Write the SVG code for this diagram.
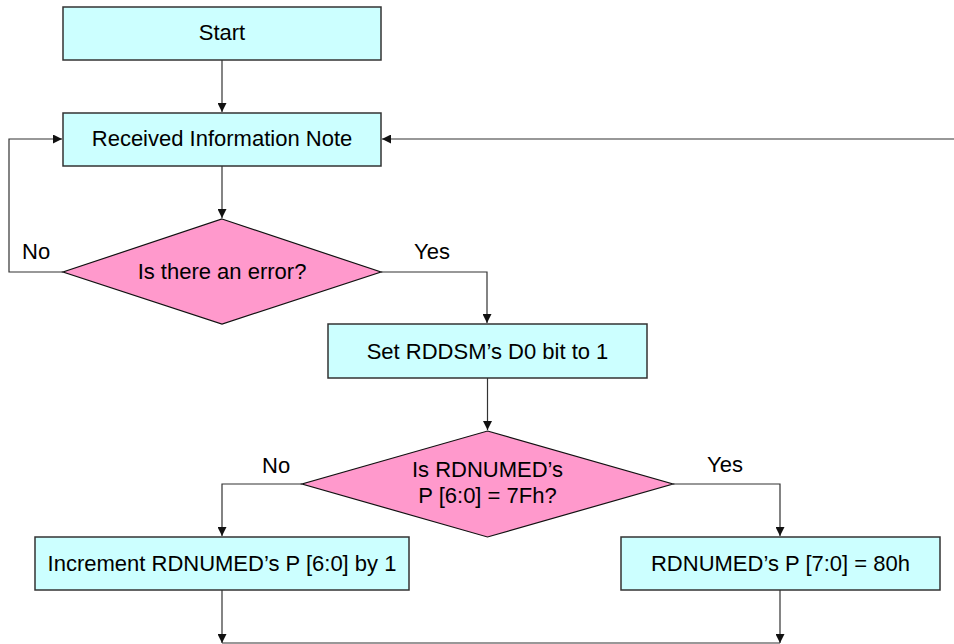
<svg xmlns="http://www.w3.org/2000/svg" width="954" height="644" viewBox="0 0 954 644">
<defs>
<marker id="arr" viewBox="0 0 10 10" refX="10" refY="5" markerWidth="9" markerHeight="9" markerUnits="userSpaceOnUse" orient="auto">
<path d="M0,0 L10,5 L0,10 z" fill="#111"/>
</marker>
<style>
.box{fill:#CCFFFF;stroke:#333;stroke-width:1.5}
.dia{fill:#FF99CC;stroke:#111;stroke-width:1.2}
.t{font-family:"Liberation Sans",Arial,sans-serif;font-size:22px;fill:#000;text-anchor:middle}
.lbl{font-family:"Liberation Sans",Arial,sans-serif;font-size:22px;fill:#000}
.c{fill:none;stroke:#333;stroke-width:1.2}
</style>
</defs>
<rect width="954" height="644" fill="#fff"/>
<g id="connectors">
<path class="c" d="M222,60 V112" marker-end="url(#arr)"/>
<path class="c" d="M222,166 V218" marker-end="url(#arr)"/>
<path class="c" d="M63,272 H9 V139 H62" marker-end="url(#arr)"/>
<path class="c" d="M954,139 H382" marker-end="url(#arr)"/>
<path class="c" d="M381,272 H487 V323" marker-end="url(#arr)"/>
<path class="c" d="M487.5,378 V430" marker-end="url(#arr)"/>
<path class="c" d="M302,484 H222 V536" marker-end="url(#arr)"/>
<path class="c" d="M673,484 H780 V536" marker-end="url(#arr)"/>
<path class="c" d="M222,590 V643" marker-end="url(#arr)"/>
<path class="c" d="M780,590 V643" marker-end="url(#arr)"/>
<path class="c" d="M222,643 H780"/>
<text class="lbl" x="22" y="259">No</text>
<text class="lbl" x="414" y="259">Yes</text>
<text class="lbl" x="262" y="473">No</text>
<text class="lbl" x="707" y="472">Yes</text>
</g>
<g id="start">
<rect class="box" x="63" y="7" width="318" height="53"/>
<text class="t" x="222" y="40">Start</text>
</g>
<g id="received">
<rect class="box" x="63" y="113" width="318" height="53"/>
<text class="t" x="222" y="146">Received Information Note</text>
</g>
<g id="error">
<polygon class="dia" points="222,219 381,272 222,324 63,272"/>
<text class="t" x="222" y="279">Is there an error?</text>
</g>
<g id="set">
<rect class="box" x="328" y="324" width="319" height="54"/>
<text class="t" x="487.5" y="359">Set RDDSM’s D0 bit to 1</text>
</g>
<g id="check">
<polygon class="dia" points="487.5,431 673,484 487.5,537 302,484"/>
<text class="t" x="487.5" y="477">Is RDNUMED’s</text>
<text class="t" x="487.5" y="503">P [6:0] = 7Fh?</text>
</g>
<g id="increment">
<rect class="box" x="35" y="537" width="374" height="53"/>
<text class="t" x="222" y="571">Increment RDNUMED’s P [6:0] by 1</text>
</g>
<g id="reset">
<rect class="box" x="621" y="537" width="319" height="53"/>
<text class="t" x="780.5" y="571">RDNUMED’s P [7:0] = 80h</text>
</g>
</svg>
